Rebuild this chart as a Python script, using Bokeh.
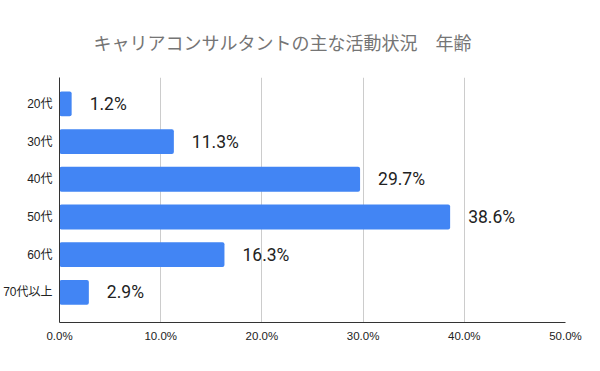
from bokeh.plotting import figure
from bokeh.models import ColumnDataSource, Range1d, FixedTicker
from bokeh.core.properties import value
from bokeh.embed import file_html
from bokeh.resources import INLINE

categories = ["20代", "30代", "40代", "50代", "60代", "70代以上"]
shares = [1.2, 11.3, 29.7, 38.6, 16.3, 2.9]
x_ticks = [0, 10, 20, 30, 40, 50]
x_tick_labels = ["0.0%", "10.0%", "20.0%", "30.0%", "40.0%", "50.0%"]
title_text = "キャリアコンサルタントの主な活動状況\u3000年齢"

FONT = "'Liberation Sans', 'Noto Sans CJK JP'"

pos = list(range(len(categories)))
src = ColumnDataSource(dict(
    y=pos, x=shares, label=[f"{v:.1f}%" for v in shares]
))

p = figure(frame_width=506, frame_height=245, output_backend="svg", toolbar_location=None,
           x_range=Range1d(0, 50), y_range=Range1d(5.8, -0.7), title=title_text)
p.min_border_left = 51
p.min_border_right = 22
p.min_border_top = 77
p.min_border_bottom = 33
p.outline_line_color = None
p.background_fill_color = "white"
p.border_fill_color = "white"

p.title.align = "left"
p.title.offset = 34
p.title.standoff = 45
p.title.text_font_size = "18px"
p.title.text_font_style = "normal"
p.title.text_color = "#757575"
p.title.text_font = "'Noto Sans CJK JP'"

p.hbar(y="y", right="x", left=0, height=0.66, source=src,
       fill_color="#4285F4", line_color=None, border_radius=2)
p.text(x="x", y="y", text="label", source=src, x_offset=18,
       text_baseline="middle", text_align="left", text_font_size="17.5px",
       text_color="#222222", text_font=value("Roboto"))

p.xaxis.ticker = FixedTicker(ticks=x_ticks)
p.xaxis.major_label_overrides = {t: l for t, l in zip(x_ticks, x_tick_labels)}
p.xaxis.major_tick_line_color = None
p.xaxis.minor_tick_line_color = None
p.xaxis.axis_line_color = "#333333"
p.xaxis.major_label_text_font_size = "11.5px"
p.xaxis.major_label_text_color = "#222222"
p.xaxis.major_label_text_font = FONT
p.xaxis.major_label_standoff = 1

p.yaxis.ticker = FixedTicker(ticks=pos)
p.yaxis.major_label_overrides = {i: c for i, c in zip(pos, categories)}
p.yaxis.major_tick_line_color = None
p.yaxis.minor_tick_line_color = None
p.yaxis.axis_line_color = "#333333"
p.yaxis.major_label_text_font_size = "12px"
p.yaxis.major_label_text_color = "#222222"
p.yaxis.major_label_text_font = FONT
p.yaxis.major_label_standoff = 1

p.xgrid.grid_line_color = "#cccccc"
p.xgrid.ticker = FixedTicker(ticks=x_ticks)
p.ygrid.grid_line_color = None

open("out.html", "w").write(file_html(p, INLINE))
